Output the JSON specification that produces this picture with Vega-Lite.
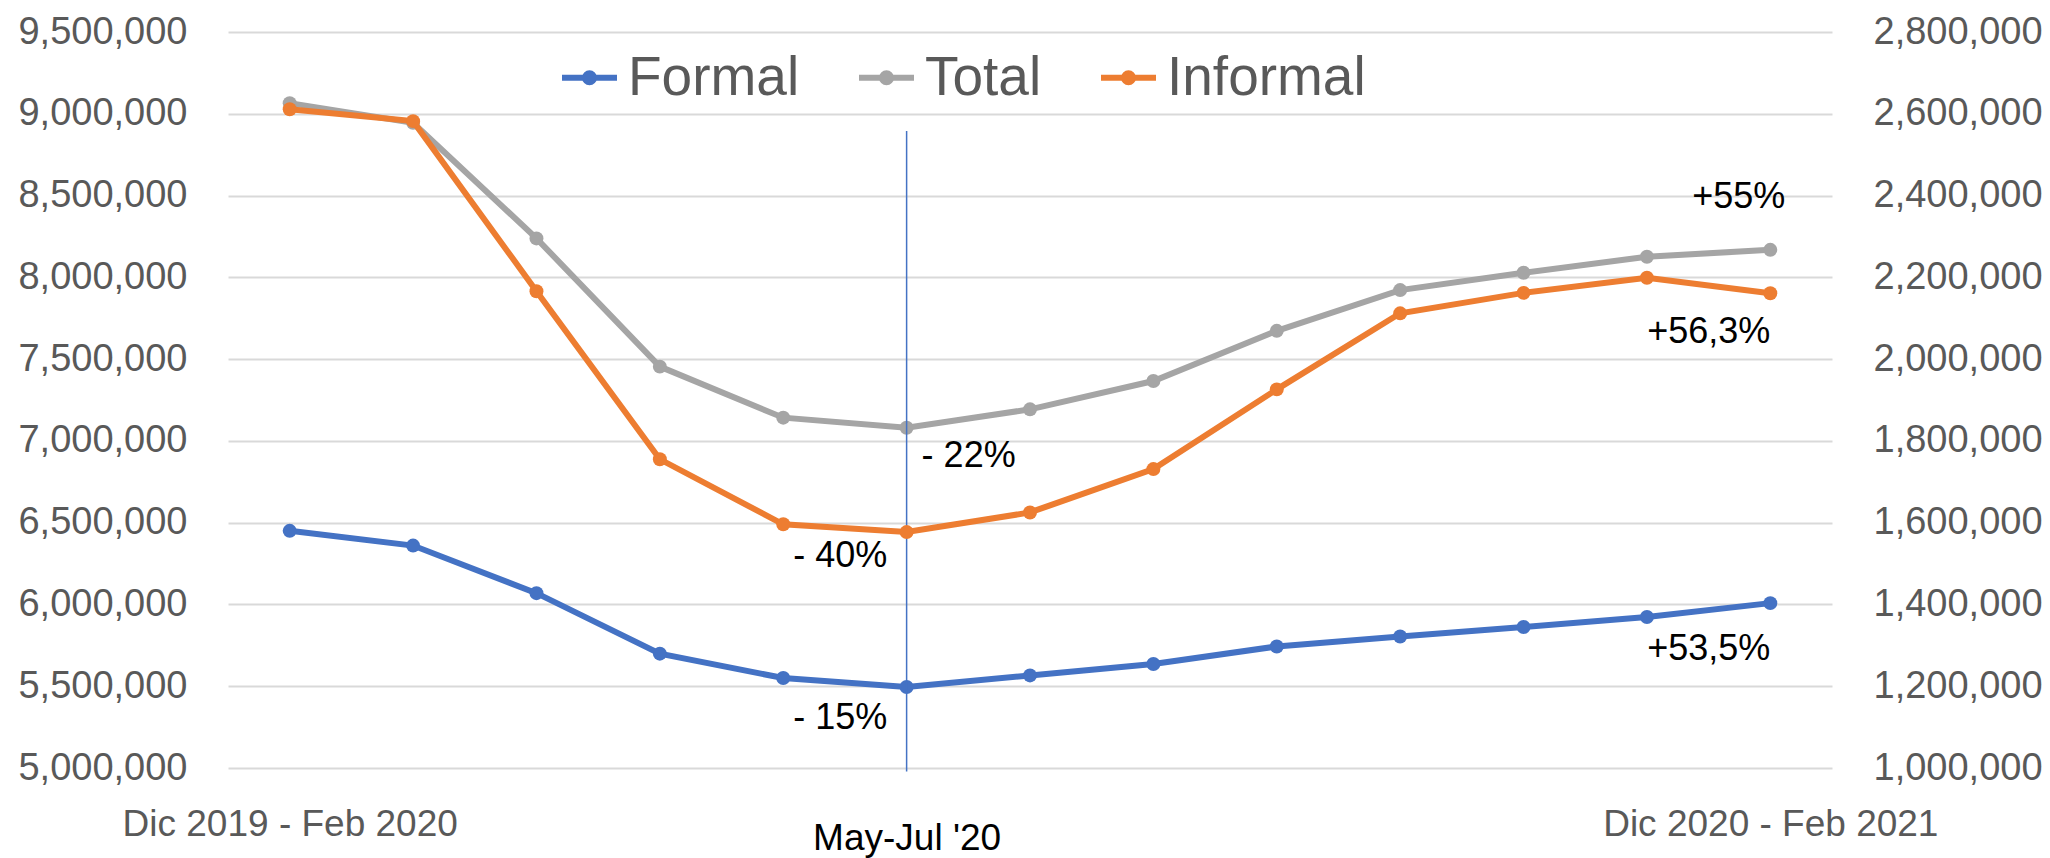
{
  "$schema": "https://vega.github.io/schema/vega-lite/v6.json",
  "width": 1604,
  "height": 736,
  "autosize": {"type": "none"},
  "padding": {"left": 228, "top": 32, "right": 218, "bottom": 90},
  "background": "white",
  "config": {"view": {"stroke": null}, "font": "Liberation Sans"},
  "datasets": {
    "series": [
      {"periodo": "Dic 2019 - Feb 2020", "serie": "Formal", "valor": 6450000},
      {"periodo": "Ene-Mar '20", "serie": "Formal", "valor": 6360000},
      {"periodo": "Feb-Abr '20", "serie": "Formal", "valor": 6069000},
      {"periodo": "Mar-May '20", "serie": "Formal", "valor": 5699000},
      {"periodo": "Abr-Jun '20", "serie": "Formal", "valor": 5550000},
      {"periodo": "May-Jul '20", "serie": "Formal", "valor": 5495000},
      {"periodo": "Jun-Ago '20", "serie": "Formal", "valor": 5566000},
      {"periodo": "Jul-Sep '20", "serie": "Formal", "valor": 5636000},
      {"periodo": "Ago-Oct '20", "serie": "Formal", "valor": 5743000},
      {"periodo": "Sep-Nov '20", "serie": "Formal", "valor": 5804000},
      {"periodo": "Oct-Dic '20", "serie": "Formal", "valor": 5862000},
      {"periodo": "Nov 2020 - Ene 2021", "serie": "Formal", "valor": 5923000},
      {"periodo": "Dic 2020 - Feb 2021", "serie": "Formal", "valor": 6008000},
      {"periodo": "Dic 2019 - Feb 2020", "serie": "Total", "valor": 9065000},
      {"periodo": "Ene-Mar '20", "serie": "Total", "valor": 8945000},
      {"periodo": "Feb-Abr '20", "serie": "Total", "valor": 8238000},
      {"periodo": "Mar-May '20", "serie": "Total", "valor": 7454000},
      {"periodo": "Abr-Jun '20", "serie": "Total", "valor": 7142000},
      {"periodo": "May-Jul '20", "serie": "Total", "valor": 7080000},
      {"periodo": "Jun-Ago '20", "serie": "Total", "valor": 7193000},
      {"periodo": "Jul-Sep '20", "serie": "Total", "valor": 7366000},
      {"periodo": "Ago-Oct '20", "serie": "Total", "valor": 7673000},
      {"periodo": "Sep-Nov '20", "serie": "Total", "valor": 7922000},
      {"periodo": "Oct-Dic '20", "serie": "Total", "valor": 8028000},
      {"periodo": "Nov 2020 - Ene 2021", "serie": "Total", "valor": 8126000},
      {"periodo": "Dic 2020 - Feb 2021", "serie": "Total", "valor": 8168000},
      {"periodo": "Dic 2019 - Feb 2020", "serie": "Informal", "valor": 2611000},
      {"periodo": "Ene-Mar '20", "serie": "Informal", "valor": 2582000},
      {"periodo": "Feb-Abr '20", "serie": "Informal", "valor": 2166000},
      {"periodo": "Mar-May '20", "serie": "Informal", "valor": 1755000},
      {"periodo": "Abr-Jun '20", "serie": "Informal", "valor": 1596000},
      {"periodo": "May-Jul '20", "serie": "Informal", "valor": 1577000},
      {"periodo": "Jun-Ago '20", "serie": "Informal", "valor": 1625000},
      {"periodo": "Jul-Sep '20", "serie": "Informal", "valor": 1731000},
      {"periodo": "Ago-Oct '20", "serie": "Informal", "valor": 1926000},
      {"periodo": "Sep-Nov '20", "serie": "Informal", "valor": 2112000},
      {"periodo": "Oct-Dic '20", "serie": "Informal", "valor": 2162000},
      {"periodo": "Nov 2020 - Ene 2021", "serie": "Informal", "valor": 2199000},
      {"periodo": "Dic 2020 - Feb 2021", "serie": "Informal", "valor": 2161000}
    ],
    "notas": [
      {"periodo": "May-Jul '20", "valor": 6909000, "texto": "- 22%"},
      {"periodo": "Abr-Jun '20", "valor": 6297000, "texto": "- 40%"},
      {"periodo": "Abr-Jun '20", "valor": 5304000, "texto": "- 15%"},
      {"periodo": "Dic 2020 - Feb 2021", "valor": 8493000, "texto": "+55%"},
      {"periodo": "Dic 2020 - Feb 2021", "valor": 7668000, "texto": "+56,3%"},
      {"periodo": "Dic 2020 - Feb 2021", "valor": 5727000, "texto": "+53,5%"}
    ],
    "guia": [
      {"periodo": "May-Jul '20", "desde": 8895000, "hasta": 4978000}
    ]
  },
  "layer": [
    {
      "layer": [
        {
          "data": {"name": "series"},
          "transform": [{"filter": "datum.serie != 'Informal'"}],
          "mark": {"type": "line", "strokeWidth": 6, "point": {"filled": true, "size": 195}},
          "encoding": {
            "x": {"field": "periodo", "type": "ordinal",
              "scale": {"type": "point", "padding": 0.5, "domain": ["Dic 2019 - Feb 2020", "Ene-Mar '20", "Feb-Abr '20", "Mar-May '20", "Abr-Jun '20", "May-Jul '20", "Jun-Ago '20", "Jul-Sep '20", "Ago-Oct '20", "Sep-Nov '20", "Oct-Dic '20", "Nov 2020 - Ene 2021", "Dic 2020 - Feb 2021"]},
              "axis": {"title": null, "domain": false, "ticks": false, "grid": false, "labelAngle": 0, "labelFont": "Liberation Sans", "labelFontSize": 37,
                "labelColor": {"condition": {"test": "datum.value == \"May-Jul '20\"", "value": "#000000"}, "value": "#595959"},
                "labelPadding": {"condition": {"test": "datum.value == \"May-Jul '20\"", "value": 52}, "value": 38},
                "labelExpr": "datum.value == 'Dic 2019 - Feb 2020' || datum.value == 'Dic 2020 - Feb 2021' || datum.value == \"May-Jul '20\" ? datum.value : ''",
                "labelOverlap": false, "labelLimit": 600}},
            "y": {"field": "valor", "type": "quantitative",
              "scale": {"domain": [5000000, 9500000], "nice": false, "zero": false},
              "axis": {"title": null, "orient": "left", "values": [5000000, 5500000, 6000000, 6500000, 7000000, 7500000, 8000000, 8500000, 9000000, 9500000], "format": ",.0f", "domain": false, "ticks": false, "tickSize": 0, "labelFont": "Liberation Sans", "labelFontSize": 38, "labelColor": "#595959", "labelPadding": 41, "grid": true, "gridColor": "#D9D9D9", "gridWidth": 2, "zindex": 0}},
            "color": {"field": "serie", "type": "nominal",
              "scale": {"domain": ["Formal", "Total", "Informal"], "range": ["#4472C4", "#A5A5A5", "#ED7D31"]},
              "legend": {"title": null, "orient": "none", "legendX": 331, "legendY": 15, "direction": "horizontal", "padding": 0,
                "labelFont": "Liberation Sans", "labelFontSize": 55, "labelColor": "#595959", "labelLimit": 600, "labelOffset": 8, "columnPadding": 47,
                "symbolType": "M-1,0L1,0M0.164,0A0.164,0.164,0,1,1,-0.164,0A0.164,0.164,0,1,1,0.164,0M0.05,0A0.05,0.05,0,1,1,-0.05,0A0.05,0.05,0,1,1,0.05,0",
                "symbolSize": 3025, "symbolStrokeWidth": 6}}
          }
        },
        {
          "data": {"name": "guia"},
          "mark": {"type": "rule", "color": "#4472C4", "strokeWidth": 1.5},
          "encoding": {
            "x": {"field": "periodo", "type": "ordinal"},
            "y": {"field": "desde", "type": "quantitative"},
            "y2": {"field": "hasta"}
          }
        },
        {
          "data": {"name": "notas"},
          "transform": [{"filter": "datum.texto == '- 22%'"}],
          "mark": {"type": "text", "align": "left", "baseline": "middle", "dx": 15, "font": "Liberation Sans", "fontSize": 36, "color": "#000000"},
          "encoding": {
            "x": {"field": "periodo", "type": "ordinal"},
            "y": {"field": "valor", "type": "quantitative"},
            "text": {"field": "texto"}
          }
        },
        {
          "data": {"name": "notas"},
          "transform": [{"filter": "datum.texto == '- 40%' || datum.texto == '- 15%'"}],
          "mark": {"type": "text", "align": "left", "baseline": "middle", "dx": 10, "font": "Liberation Sans", "fontSize": 36, "color": "#000000"},
          "encoding": {
            "x": {"field": "periodo", "type": "ordinal"},
            "y": {"field": "valor", "type": "quantitative"},
            "text": {"field": "texto"}
          }
        },
        {
          "data": {"name": "notas"},
          "transform": [{"filter": "datum.texto == '+56,3%' || datum.texto == '+53,5%'"}],
          "mark": {"type": "text", "align": "right", "baseline": "middle", "dx": 0, "font": "Liberation Sans", "fontSize": 36, "color": "#000000"},
          "encoding": {
            "x": {"field": "periodo", "type": "ordinal"},
            "y": {"field": "valor", "type": "quantitative"},
            "text": {"field": "texto"}
          }
        },
        {
          "data": {"name": "notas"},
          "transform": [{"filter": "datum.texto == '+55%'"}],
          "mark": {"type": "text", "align": "right", "baseline": "middle", "dx": 15, "font": "Liberation Sans", "fontSize": 36, "color": "#000000"},
          "encoding": {
            "x": {"field": "periodo", "type": "ordinal"},
            "y": {"field": "valor", "type": "quantitative"},
            "text": {"field": "texto"}
          }
        }
      ]
    },
    {
      "data": {"name": "series"},
      "transform": [{"filter": "datum.serie == 'Informal'"}],
      "mark": {"type": "line", "strokeWidth": 6, "point": {"filled": true, "size": 195}},
      "encoding": {
        "x": {"field": "periodo", "type": "ordinal"},
        "y": {"field": "valor", "type": "quantitative",
          "scale": {"domain": [1000000, 2800000], "nice": false, "zero": false},
          "axis": {"title": null, "orient": "right", "values": [1000000, 1200000, 1400000, 1600000, 1800000, 2000000, 2200000, 2400000, 2600000, 2800000], "format": ",.0f", "domain": false, "ticks": false, "tickSize": 0, "labelFont": "Liberation Sans", "labelFontSize": 38, "labelColor": "#595959", "labelPadding": 41, "grid": false}},
        "color": {"field": "serie", "type": "nominal"}
      }
    }
  ],
  "resolve": {"scale": {"y": "independent"}}
}
